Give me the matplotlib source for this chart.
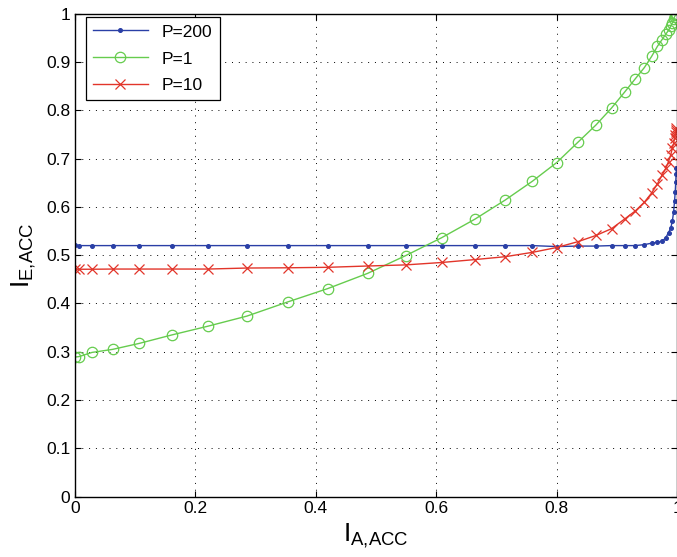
import matplotlib
matplotlib.use("Agg")
from matplotlib import pyplot as plt
from matplotlib.ticker import FormatStrFormatter

# shared a-priori information grid
x_vals = [0.0, 0.0068, 0.0282, 0.0624, 0.1070, 0.1607, 0.2209, 0.2856, 0.3530,
          0.4200, 0.4860, 0.5494, 0.6090, 0.6642, 0.7146, 0.7599, 0.8000, 0.8351,
          0.8654, 0.8912, 0.9129, 0.9309, 0.9458, 0.9578, 0.9675, 0.9752, 0.9812,
          0.9859, 0.9896, 0.9923, 0.9944, 0.9959, 0.9971, 0.9979, 0.9985, 0.9990]

p200 = [0.521, 0.520, 0.520, 0.520, 0.520, 0.520, 0.520, 0.520, 0.520,
        0.520, 0.520, 0.520, 0.520, 0.520, 0.520, 0.520, 0.518, 0.519,
        0.519, 0.520, 0.520, 0.520, 0.522, 0.525, 0.527, 0.529, 0.536,
        0.547, 0.556, 0.571, 0.590, 0.612, 0.632, 0.652, 0.668, 0.680]

p1 = [0.289, 0.290, 0.2986, 0.3049, 0.3174, 0.3348, 0.353, 0.3739, 0.4031,
      0.431, 0.4624, 0.4993, 0.5363, 0.5747, 0.6144, 0.6535, 0.6919, 0.7338,
      0.770, 0.805, 0.838, 0.866, 0.889, 0.912, 0.933, 0.947, 0.958,
      0.966, 0.975, 0.982, 0.989, 0.994, 0.997, 0.999, 1.0, 1.0]

p10 = [0.471, 0.471, 0.471, 0.4714, 0.4714, 0.4714, 0.4714, 0.4735, 0.474,
       0.475, 0.4777, 0.480, 0.485, 0.491, 0.497, 0.506, 0.516, 0.528,
       0.541, 0.555, 0.575, 0.592, 0.610, 0.629, 0.648, 0.666, 0.680,
       0.694, 0.708, 0.722, 0.732, 0.742, 0.750, 0.756, 0.760, 0.763]

x_ticks = [0, 0.2, 0.4, 0.6, 0.8, 1]
y_ticks = [0, 0.1, 0.2, 0.3, 0.4, 0.5, 0.6, 0.7, 0.8, 0.9, 1]

plt.rcParams['font.family'] = ['Liberation Sans', 'DejaVu Sans']

fig = plt.figure(figsize=(6.77, 5.57), dpi=100)
ax = fig.add_axes([0.1108, 0.1086, 0.8892, 0.8663])

ax.plot(x_vals, p200, '-', color='#2a3fa6', lw=1.0, marker='o', ms=2.6,
        label='P=200')
ax.plot(x_vals, p1, '-', color='#66cc4e', lw=1.0, marker='o', ms=7.5,
        mfc='none', mew=0.9, label='P=1')
ax.plot(x_vals, p10, '-', color='#e2352a', lw=1.0, marker='x', ms=6.5,
        mew=0.9, label='P=10')

ax.set_xlim(0, 1)
ax.set_ylim(0, 1)
ax.set_xticks(x_ticks)
ax.set_yticks(y_ticks)
ax.xaxis.set_major_formatter(FormatStrFormatter('%g'))
ax.yaxis.set_major_formatter(FormatStrFormatter('%g'))
ax.tick_params(direction='in', top=True, right=True, length=4, labelsize=12.5)
ax.grid(True, color='black', linestyle=(0, (1, 6)), linewidth=0.7)
for s in ax.spines.values():
    s.set_linewidth(1.0)

ax.set_xlabel(r'$\mathregular{I_{A{,}ACC}}$', fontsize=19, labelpad=4)
ax.set_ylabel(r'$\mathregular{I_{E{,}ACC}}$', fontsize=19, labelpad=6)

leg = ax.legend(loc='upper left', fontsize=12.5, fancybox=False,
                edgecolor='black', framealpha=1, borderaxespad=0.2,
                bbox_to_anchor=(0.012, 1.0),
                handlelength=3.2, labelspacing=0.68)
leg.get_frame().set_linewidth(0.9)

fig.savefig('out.png', dpi=100)
